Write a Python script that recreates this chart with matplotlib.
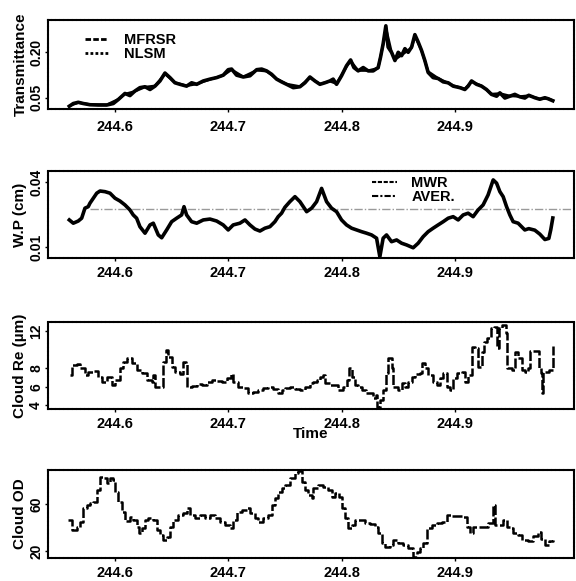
import matplotlib
matplotlib.use("Agg")
import matplotlib.pyplot as plt
from matplotlib.lines import Line2D

plt.rcParams['font.family'] = ['Liberation Sans', 'DejaVu Sans']
plt.rcParams['font.weight'] = 'bold'

# ---------------- data ----------------
time_ticks = [244.6, 244.7, 244.8, 244.9]

trans_time = [244.5597, 244.5632, 244.5676, 244.5720, 244.5779, 244.5853, 244.5927, 244.5985,
              244.6029, 244.6088, 244.6132, 244.6176, 244.6220, 244.6265, 244.6309, 244.6353,
              244.6397, 244.6441, 244.6485, 244.6529, 244.6573, 244.6632, 244.6676, 244.6721,
              244.6779, 244.6838, 244.6897, 244.6955, 244.6999, 244.7029, 244.7073, 244.7132,
              244.7191, 244.7250, 244.7294, 244.7338, 244.7382, 244.7426, 244.7470, 244.7514,
              244.7573, 244.7632, 244.7676, 244.7720, 244.7764, 244.7808, 244.7852, 244.7896,
              244.7925, 244.7955, 244.7999, 244.8043, 244.8079, 244.8108, 244.8146, 244.8190,
              244.8234, 244.8278, 244.8322, 244.8343, 244.8366, 244.8390, 244.8410, 244.8440,
              244.8470, 244.8499, 244.8529, 244.8558, 244.8587, 244.8617, 244.8646, 244.8675,
              244.8705, 244.8734, 244.8763, 244.8807, 244.8851, 244.8896, 244.8940, 244.8984,
              244.9043, 244.9087, 244.9116, 244.9146, 244.9190, 244.9234, 244.9278, 244.9322,
              244.9367, 244.9396, 244.9440, 244.9484, 244.9528, 244.9572, 244.9616, 244.9651,
              244.9704, 244.9748, 244.9793, 244.9819, 244.9863]
mfrsr = [0.022, 0.031, 0.035, 0.031, 0.027, 0.026, 0.026, 0.031,
         0.044, 0.064, 0.057, 0.072, 0.083, 0.086, 0.077, 0.088,
         0.105, 0.131, 0.116, 0.099, 0.094, 0.088, 0.099, 0.094,
         0.105, 0.111, 0.116, 0.124, 0.142, 0.144, 0.124, 0.118,
         0.122, 0.142, 0.144, 0.138, 0.127, 0.111, 0.102, 0.094,
         0.083, 0.086, 0.099, 0.118, 0.105, 0.094, 0.099, 0.105,
         0.111, 0.094, 0.122, 0.155, 0.174, 0.149, 0.138, 0.149,
         0.138, 0.138, 0.149, 0.183, 0.227, 0.286, 0.216, 0.199,
         0.172, 0.199, 0.188, 0.211, 0.199, 0.216, 0.257, 0.233,
         0.205, 0.172, 0.133, 0.116, 0.113, 0.102, 0.099, 0.088,
         0.083, 0.077, 0.088, 0.105, 0.094, 0.088, 0.077, 0.061,
         0.055, 0.066, 0.049, 0.055, 0.061, 0.053, 0.049, 0.058,
         0.050, 0.045, 0.050, 0.047, 0.040]

nlsm_time = [244.5597, 244.5676, 244.5779, 244.5927, 244.6029, 244.6088, 244.6176, 244.6265,
             244.6353, 244.6441, 244.6529, 244.6632, 244.6721, 244.6838, 244.6955, 244.7029,
             244.7132, 244.7250, 244.7338, 244.7426, 244.7514, 244.7632, 244.7720, 244.7808,
             244.7896, 244.7955, 244.8043, 244.8079, 244.8146, 244.8234, 244.8322, 244.8366,
             244.8390, 244.8440, 244.8470, 244.8529, 244.8617, 244.8646, 244.8705, 244.8763,
             244.8851, 244.8984, 244.9087, 244.9146, 244.9234, 244.9322, 244.9396, 244.9484,
             244.9572, 244.9651, 244.9748, 244.9819, 244.9863]
nlsm = [0.023, 0.034, 0.028, 0.027, 0.045, 0.062, 0.071, 0.085,
        0.089, 0.128, 0.100, 0.089, 0.095, 0.110, 0.123, 0.142,
        0.119, 0.140, 0.137, 0.112, 0.095, 0.087, 0.116, 0.095,
        0.104, 0.096, 0.152, 0.171, 0.139, 0.139, 0.147, 0.225,
        0.280, 0.200, 0.175, 0.190, 0.214, 0.252, 0.205, 0.136,
        0.114, 0.090, 0.079, 0.103, 0.089, 0.062, 0.064, 0.056,
        0.054, 0.057, 0.046, 0.048, 0.041]

lwp_time = [244.5597, 244.5632, 244.5676, 244.5706, 244.5735, 244.5764, 244.5779, 244.5809,
            244.5839, 244.5868, 244.5912, 244.5956, 244.6000, 244.6044, 244.6088, 244.6132,
            244.6161, 244.6191, 244.6220, 244.6265, 244.6309, 244.6338, 244.6382, 244.6412,
            244.6456, 244.6500, 244.6544, 244.6588, 244.6609, 244.6632, 244.6676, 244.6721,
            244.6779, 244.6838, 244.6897, 244.6955, 244.6999, 244.7043, 244.7102, 244.7147,
            244.7191, 244.7235, 244.7279, 244.7323, 244.7367, 244.7411, 244.7440, 244.7470,
            244.7499, 244.7543, 244.7588, 244.7632, 244.7691, 244.7735, 244.7779, 244.7823,
            244.7867, 244.7911, 244.7955, 244.7999, 244.8043, 244.8088, 244.8132, 244.8176,
            244.8220, 244.8264, 244.8308, 244.8337, 244.8366, 244.8396, 244.8440, 244.8485,
            244.8529, 244.8573, 244.8631, 244.8675, 244.8719, 244.8763, 244.8807, 244.8851,
            244.8896, 244.8940, 244.8984, 244.9028, 244.9072, 244.9116, 244.9160, 244.9204,
            244.9248, 244.9292, 244.9337, 244.9367, 244.9396, 244.9425, 244.9455, 244.9484,
            244.9513, 244.9557, 244.9616, 244.9651, 244.9704, 244.9748, 244.9793, 244.9828,
            244.9845, 244.9863]
mwr = [0.0225, 0.0210, 0.0220, 0.0233, 0.0279, 0.0286, 0.0302, 0.0325,
       0.0348, 0.0358, 0.0355, 0.0348, 0.0325, 0.0312, 0.0294, 0.0271,
       0.0248, 0.0233, 0.0194, 0.0164, 0.0202, 0.0210, 0.0156, 0.0143,
       0.0179, 0.0217, 0.0233, 0.0248, 0.0286, 0.0248, 0.0217, 0.0210,
       0.0225, 0.0229, 0.0220, 0.0202, 0.0179, 0.0202, 0.0210, 0.0225,
       0.0202, 0.0183, 0.0174, 0.0187, 0.0194, 0.0217, 0.0240, 0.0256,
       0.0283, 0.0309, 0.0332, 0.0309, 0.0263, 0.0279, 0.0309, 0.0370,
       0.0309, 0.0279, 0.0263, 0.0225, 0.0202, 0.0187, 0.0179, 0.0171,
       0.0164, 0.0156, 0.0141, 0.0056, 0.0141, 0.0156, 0.0125, 0.0133,
       0.0118, 0.0110, 0.0097, 0.0118, 0.0148, 0.0171, 0.0187, 0.0202,
       0.0217, 0.0233, 0.0240, 0.0225, 0.0248, 0.0256, 0.0240, 0.0271,
       0.0294, 0.0340, 0.0409, 0.0394, 0.0355, 0.0332, 0.0286, 0.0248,
       0.0217, 0.0210, 0.0179, 0.0185, 0.0178, 0.0160, 0.0135, 0.0140,
       0.0180, 0.0234]
lwp_average = 0.0275

re_time = [244.5603, 244.5618, 244.5662, 244.5691, 244.5735, 244.5764, 244.5809, 244.5853,
           244.5883, 244.5927, 244.5971, 244.6000, 244.6044, 244.6073, 244.6108, 244.6147,
           244.6191, 244.6235, 244.6280, 244.6324, 244.6338, 244.6353, 244.6397, 244.6421,
           244.6450, 244.6470, 244.6500, 244.6529, 244.6573, 244.6602, 244.6626, 244.6632,
           244.6676, 244.6721, 244.6765, 244.6809, 244.6853, 244.6897, 244.6941, 244.6985,
           244.7020, 244.7043, 244.7087, 244.7132, 244.7176, 244.7220, 244.7264, 244.7308,
           244.7352, 244.7396, 244.7440, 244.7470, 244.7499, 244.7543, 244.7588, 244.7632,
           244.7676, 244.7720, 244.7749, 244.7779, 244.7808, 244.7832, 244.7852, 244.7896,
           244.7940, 244.7969, 244.8014, 244.8043, 244.8066, 244.8088, 244.8117, 244.8146,
           244.8176, 244.8214, 244.8249, 244.8278, 244.8302, 244.8313, 244.8337, 244.8366,
           244.8390, 244.8410, 244.8440, 244.8455, 244.8499, 244.8529, 244.8558, 244.8587,
           244.8617, 244.8646, 244.8690, 244.8705, 244.8734, 244.8763, 244.8807, 244.8837,
           244.8866, 244.8896, 244.8926, 244.8955, 244.8984, 244.9014, 244.9058, 244.9087,
           244.9116, 244.9146, 244.9175, 244.9204, 244.9234, 244.9255, 244.9284, 244.9314,
           244.9343, 244.9367, 244.9389, 244.9419, 244.9449, 244.9460, 244.9499, 244.9528,
           244.9557, 244.9587, 244.9616, 244.9643, 244.9660, 244.9713, 244.9740, 244.9757,
           244.9766, 244.9779, 244.9828, 244.9863]
cloud_re = [7.27, 8.35, 8.43, 8.00, 7.27, 7.63, 7.71, 7.09,
            6.55, 7.09, 6.19, 6.73, 8.00, 8.71, 9.14, 8.54,
            7.81, 7.46, 6.73, 6.55, 7.27, 6.01, 6.01, 8.71,
            9.97, 9.25, 8.17, 7.63, 7.35, 8.71, 8.54, 6.01,
            6.12, 6.27, 6.19, 6.55, 6.73, 6.63, 6.55, 6.92,
            7.35, 6.55, 6.01, 5.84, 5.30, 5.47, 5.65, 5.84,
            6.01, 5.76, 5.30, 5.65, 5.84, 6.01, 5.76, 5.65,
            6.01, 6.38, 6.55, 6.73, 7.09, 7.27, 6.38, 6.19,
            6.19, 5.65, 6.01, 6.73, 8.00, 7.09, 6.19, 6.01,
            5.65, 5.30, 5.30, 4.76, 5.11, 3.85, 4.57, 5.65,
            7.46, 9.08, 8.00, 6.01, 5.65, 6.38, 6.01, 6.55,
            7.09, 7.35, 7.46, 8.54, 8.00, 7.27, 6.55, 6.19,
            6.92, 7.46, 6.01, 5.65, 6.92, 7.46, 7.57, 6.55,
            7.27, 10.33, 10.16, 8.17, 9.79, 10.87, 11.24, 12.32,
            12.49, 10.16, 12.32, 12.68, 11.78, 8.00, 7.81, 9.79,
            9.08, 7.81, 7.63, 8.00, 9.90, 9.90, 8.00, 7.50,
            5.30, 7.60, 7.80, 10.40]

od_time = [244.5588, 244.5618, 244.5662, 244.5691, 244.5720, 244.5750, 244.5779, 244.5809,
           244.5839, 244.5868, 244.5897, 244.5927, 244.5956, 244.5980, 244.6000, 244.6029,
           244.6059, 244.6088, 244.6132, 244.6161, 244.6191, 244.6212, 244.6235, 244.6265,
           244.6294, 244.6338, 244.6368, 244.6397, 244.6426, 244.6456, 244.6485, 244.6514,
           244.6558, 244.6602, 244.6632, 244.6661, 244.6706, 244.6750, 244.6794, 244.6838,
           244.6882, 244.6926, 244.6970, 244.7014, 244.7043, 244.7073, 244.7117, 244.7162,
           244.7191, 244.7235, 244.7264, 244.7308, 244.7352, 244.7382, 244.7411, 244.7440,
           244.7470, 244.7499, 244.7543, 244.7588, 244.7617, 244.7647, 244.7676, 244.7705,
           244.7735, 244.7749, 244.7793, 244.7837, 244.7881, 244.7911, 244.7940, 244.7978,
           244.7999, 244.8029, 244.8058, 244.8088, 244.8117, 244.8161, 244.8205, 244.8249,
           244.8293, 244.8322, 244.8352, 244.8381, 244.8425, 244.8455, 244.8499, 244.8543,
           244.8587, 244.8626, 244.8661, 244.8690, 244.8719, 244.8749, 244.8793, 244.8837,
           244.8881, 244.8926, 244.8970, 244.9014, 244.9067, 244.9102, 244.9131, 244.9160,
           244.9204, 244.9248, 244.9292, 244.9331, 244.9352, 244.9396, 244.9425, 244.9455,
           244.9484, 244.9513, 244.9557, 244.9590, 244.9643, 244.9687, 244.9731, 244.9757,
           244.9793, 244.9828, 244.9863]
cloud_od = [46.4, 37.9, 40.7, 44.9, 56.4, 59.2, 60.6, 62.0,
            72.0, 83.3, 81.9, 77.7, 81.9, 80.5, 70.5, 62.0,
            53.5, 45.5, 49.2, 46.4, 40.7, 35.1, 39.3, 46.4,
            47.8, 46.4, 37.9, 33.6, 29.3, 32.2, 40.7, 46.4,
            50.6, 52.1, 56.9, 50.6, 48.3, 50.6, 47.8, 50.6,
            48.3, 44.9, 42.1, 39.3, 46.4, 53.5, 54.9, 56.4,
            52.1, 47.8, 44.9, 47.8, 50.6, 59.2, 64.9, 70.5,
            73.4, 76.2, 81.9, 86.2, 88.5, 79.0, 72.0, 67.7,
            64.9, 73.4, 76.2, 74.8, 72.0, 66.3, 69.1, 66.3,
            56.4, 47.8, 39.3, 42.1, 46.4, 46.4, 43.6, 42.7,
            40.7, 35.1, 26.5, 23.6, 25.1, 29.3, 26.5, 25.1,
            22.3, 15.1, 19.4, 22.3, 26.5, 39.3, 42.1, 43.6,
            44.9, 50.6, 50.1, 50.1, 49.2, 40.7, 35.1, 40.7,
            40.7, 40.7, 43.6, 59.2, 42.1, 42.1, 46.4, 40.7,
            39.3, 35.1, 33.6, 29.0, 28.5, 33.0, 36.0, 30.0,
            25.5, 28.5, 29.5]

# ---------------- layout ----------------
fig = plt.figure(figsize=(5.76, 5.81), dpi=100)
left, width = 48 / 576, 526 / 576
rects = [(left, 1 - 109 / 581, width, 89 / 581),
         (left, 1 - 258 / 581, width, 87 / 581),
         (left, 1 - 409 / 581, width, 87 / 581),
         (left, 1 - 558 / 581, width, 88 / 581)]
ax1, ax2, ax3, ax4 = [fig.add_axes(r) for r in rects]


def frame(ax, ylim, yticks, yticklabels, ylabel, xpad=4):
    ax.set_xlim(244.5409, 245.005)
    ax.set_ylim(*ylim)
    ax.set_xticks(time_ticks)
    ax.set_xticklabels([f"{t:.1f}" for t in time_ticks])
    ax.set_yticks(yticks)
    ax.set_yticklabels(yticklabels, rotation=90, va='center')
    ax.tick_params(axis='x', length=2, pad=xpad, labelsize=10.5, width=1)
    ax.tick_params(axis='y', length=2, pad=1.5, labelsize=10, width=1)
    for s in ax.spines.values():
        s.set_linestyle((0, (1.2, 0.8)))
        s.set_linewidth(1.5)
    ax.set_ylabel(ylabel, fontsize=11, fontweight='bold')
    ax.yaxis.set_label_coords(-0.039, 0.5)


# Transmittance
ax1.plot(trans_time, mfrsr, color='black', lw=2.6)
ax1.plot(nlsm_time, nlsm, color='black', lw=1.8)
frame(ax1, (0.013, 0.305), [0.05, 0.20], ['0.05', '0.20'], 'Transmittance', xpad=6)
h1 = [Line2D([], [], color='black', lw=2, ls=(0, (2, 0.8))),
      Line2D([], [], color='black', lw=2, ls=(0, (1, 0.8)))]
ax1.legend(h1, ['MFRSR', 'NLSM'], loc='upper left', bbox_to_anchor=(0.070, 0.85),
           frameon=False, fontsize=10.5, handlelength=1.6, handletextpad=1.1,
           labelspacing=0.0, borderpad=0, borderaxespad=0)

# Liquid water path
ax2.axhline(lwp_average, xmin=0.08, color='#9a9a9a', lw=1.0, ls=(0, (6, 1.5, 1, 1.5)))
ax2.plot(lwp_time, mwr, color='black', lw=2.6)
frame(ax2, (0.005, 0.045), [0.01, 0.04], ['0.01', '0.04'], 'W.P (cm)')
h2 = [Line2D([], [], color='black', lw=1.5, ls=(0, (2, 0.8))),
      Line2D([], [], color='black', lw=1.5, ls=(0, (3, 1, 1, 1)))]
ax2.legend(h2, ['MWR', 'AVER.'], loc='upper left', bbox_to_anchor=(0.616, 0.94),
           frameon=False, fontsize=10.5, handlelength=1.7, handletextpad=1.0,
           labelspacing=0.0, borderpad=0, borderaxespad=0)

# Cloud effective radius
ax3.plot(re_time, cloud_re, color='black', lw=1.8, ls=(0, (4, 1)), drawstyle='steps-post')
frame(ax3, (3.6, 13.0), [4, 6, 8, 12], ['4', '6', '8', '12'], 'Cloud Re (\u00b5m)')
ax3.set_xlabel('Time', fontsize=11, fontweight='bold', labelpad=-3)

# Cloud optical depth
ax4.plot(od_time, cloud_od, color='black', lw=1.8, ls=(0, (4, 1)), drawstyle='steps-post')
frame(ax4, (14, 89), [20, 60], ['20', '60'], 'Cloud OD')

fig.savefig('out.png', dpi=100)
